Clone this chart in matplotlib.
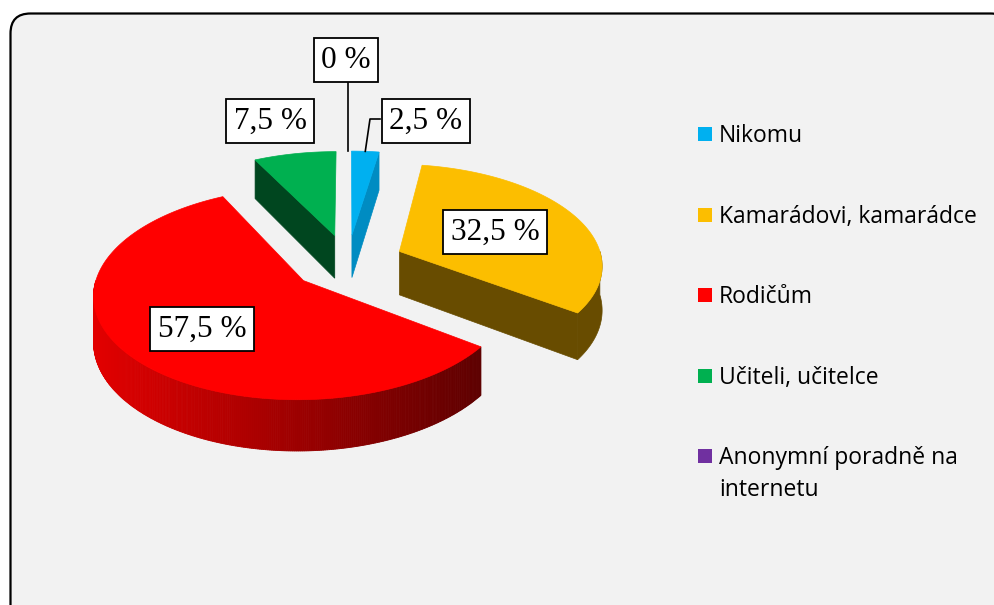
import numpy as np
import matplotlib
matplotlib.use("Agg")
import matplotlib.pyplot as plt
from matplotlib.patches import Polygon, Rectangle, FancyBboxPatch

# ---------------- data ----------------
categories = ["Nikomu", "Kamarádovi, kamarádce", "Rodičům", "Učiteli, učitelce",
              "Anonymní poradně na\ninternetu"]
values = [2.5, 32.5, 57.5, 7.5, 0.0]
value_labels = ["2,5 %", "32,5 %", "57,5 %", "7,5 %", "0 %"]
top_colors = ["#00B0F0", "#FCBE00", "#FF0000", "#00B050", "#7030A0"]
wall_colors = ["#008CC2", "#684C00", "#B00000", "#00461F", "#4A1F6B"]

# ---------------- layout ----------------
W, H = 994, 605
CX, CY, RX, RY, K = 347.6, 262.0, 203.0, 100.0, 0.12
EXPLODE, DEPTH = 0.28, 44.0

fig = plt.figure(figsize=(W / 100, H / 100), dpi=100)
fig.patch.set_facecolor("white")
ax = fig.add_axes([0, 0, 1, 1])
ax.set_xlim(0, W)
ax.set_ylim(H, 0)
ax.axis("off")

frame = FancyBboxPatch((10.5, 13.5), 1000, 612, boxstyle="round,pad=0,rounding_size=20",
                       facecolor="#F2F2F2", edgecolor="black", linewidth=1.6, zorder=0,
                       clip_on=False)
ax.add_patch(frame)


def proj(theta_deg, r, mid_deg):
    t = np.radians(theta_deg)
    m = np.radians(mid_deg)
    X = EXPLODE * np.sin(m) + r * np.sin(t)
    Y = EXPLODE * np.cos(m) + r * np.cos(t)
    w = 1 + K * Y
    return CX + RX * X / w, CY - RY * Y / w, w


total = sum(values)
angles = np.concatenate([[0], np.cumsum(values) / total * 360.0])
slices = []
for i, v in enumerate(values):
    a0, a1 = angles[i], angles[i + 1]
    slices.append((i, a0, a1, (a0 + a1) / 2))


def red_grad(x):
    f = np.clip((x - 95) / (485 - 95), 0, 1)
    c0 = np.array([226, 0, 0]) / 255
    c1 = np.array([92, 0, 0]) / 255
    return tuple(c0 + (c1 - c0) * f)


def draw_slice(i, a0, a1, mid):
    if a1 - a0 <= 0:
        return
    ax_, ay_, aw_ = proj(0, 0, mid)
    n = max(int((a1 - a0) * 2), 4)
    th = np.linspace(a0, a1, n)
    xs, ys, ws = proj(th, 1.0, mid)
    z = 2
    # radial walls
    if np.sin(np.radians(a0)) < -1e-9:
        ox, oy, ow = proj(a0, 1.0, mid)
        quad = [(ax_, ay_), (ox, oy), (ox, oy + DEPTH / ow), (ax_, ay_ + DEPTH / aw_)]
        ax.add_patch(Polygon(quad, closed=True, facecolor=wall_colors[i],
                             edgecolor=wall_colors[i], lw=0.5, zorder=z))
    if np.sin(np.radians(a1)) > 1e-9:
        ox, oy, ow = proj(a1, 1.0, mid)
        quad = [(ax_, ay_), (ox, oy), (ox, oy + DEPTH / ow), (ax_, ay_ + DEPTH / aw_)]
        ax.add_patch(Polygon(quad, closed=True, facecolor=wall_colors[i],
                             edgecolor=wall_colors[i], lw=0.5, zorder=z))
    # outer wall (front half)
    lo, hi = max(a0, 90.0), min(a1, 270.0)
    if hi > lo:
        m = max(int((hi - lo) * 2), 4)
        t2 = np.linspace(lo, hi, m)
        x2, y2, w2 = proj(t2, 1.0, mid)
        yb2 = y2 + DEPTH / w2
        if i == 2:
            for j in range(m - 1):
                quad = [(x2[j], y2[j]), (x2[j + 1], y2[j + 1]),
                        (x2[j + 1], yb2[j + 1]), (x2[j], yb2[j])]
                c = red_grad((x2[j] + x2[j + 1]) / 2)
                ax.add_patch(Polygon(quad, closed=True, facecolor=c, edgecolor=c,
                                     lw=0.6, zorder=z))
        else:
            pts = list(zip(x2, y2)) + list(zip(x2[::-1], yb2[::-1]))
            ax.add_patch(Polygon(pts, closed=True, facecolor=wall_colors[i],
                                 edgecolor=wall_colors[i], lw=0.5, zorder=z))
    # top face
    pts = [(ax_, ay_)] + list(zip(xs, ys))
    ax.add_patch(Polygon(pts, closed=True, facecolor=top_colors[i],
                         edgecolor=top_colors[i], lw=0.5, zorder=z + 0.5))


order = sorted(slices, key=lambda s: -np.cos(np.radians(s[3])))
for s in order:
    draw_slice(*s)

# ---------------- data labels ----------------
label_pos = [(426, 121), (495, 232), (202, 329), (270, 121), (346, 60)]
for i, (lx, ly) in enumerate(label_pos):
    ax.text(lx, ly, value_labels[i], ha="center", va="center", fontsize=22.5,
            family="Liberation Serif", color="black", zorder=6,
            bbox=dict(boxstyle="square,pad=0.24", facecolor="white",
                      edgecolor="black", linewidth=1.3))

# leader lines
tx, ty, _ = proj(angles[4], 1.0, angles[4])
ax.plot([tx, tx], [83, ty], color="black", lw=1.2, zorder=5)
bx, by, _ = proj((angles[0] + angles[1]) / 2, 1.0, (angles[0] + angles[1]) / 2)
ax.plot([380, 370, bx], [119, 119, by], color="black", lw=1.2, zorder=5)

# ---------------- legend ----------------
leg_y = [134, 215, 295, 376, 456]
for i, cat in enumerate(categories):
    ax.add_patch(Rectangle((697.5, leg_y[i] - 7), 14, 14, facecolor=top_colors[i],
                           edgecolor="none", zorder=5))
    for k, line in enumerate(cat.split("\n")):
        ax.text(719, leg_y[i] + 2 + k * 32, line, ha="left", va="center", fontsize=16.5,
                family="Open Sans", color="black", zorder=5)

fig.savefig("out.png", dpi=100, facecolor="white")
